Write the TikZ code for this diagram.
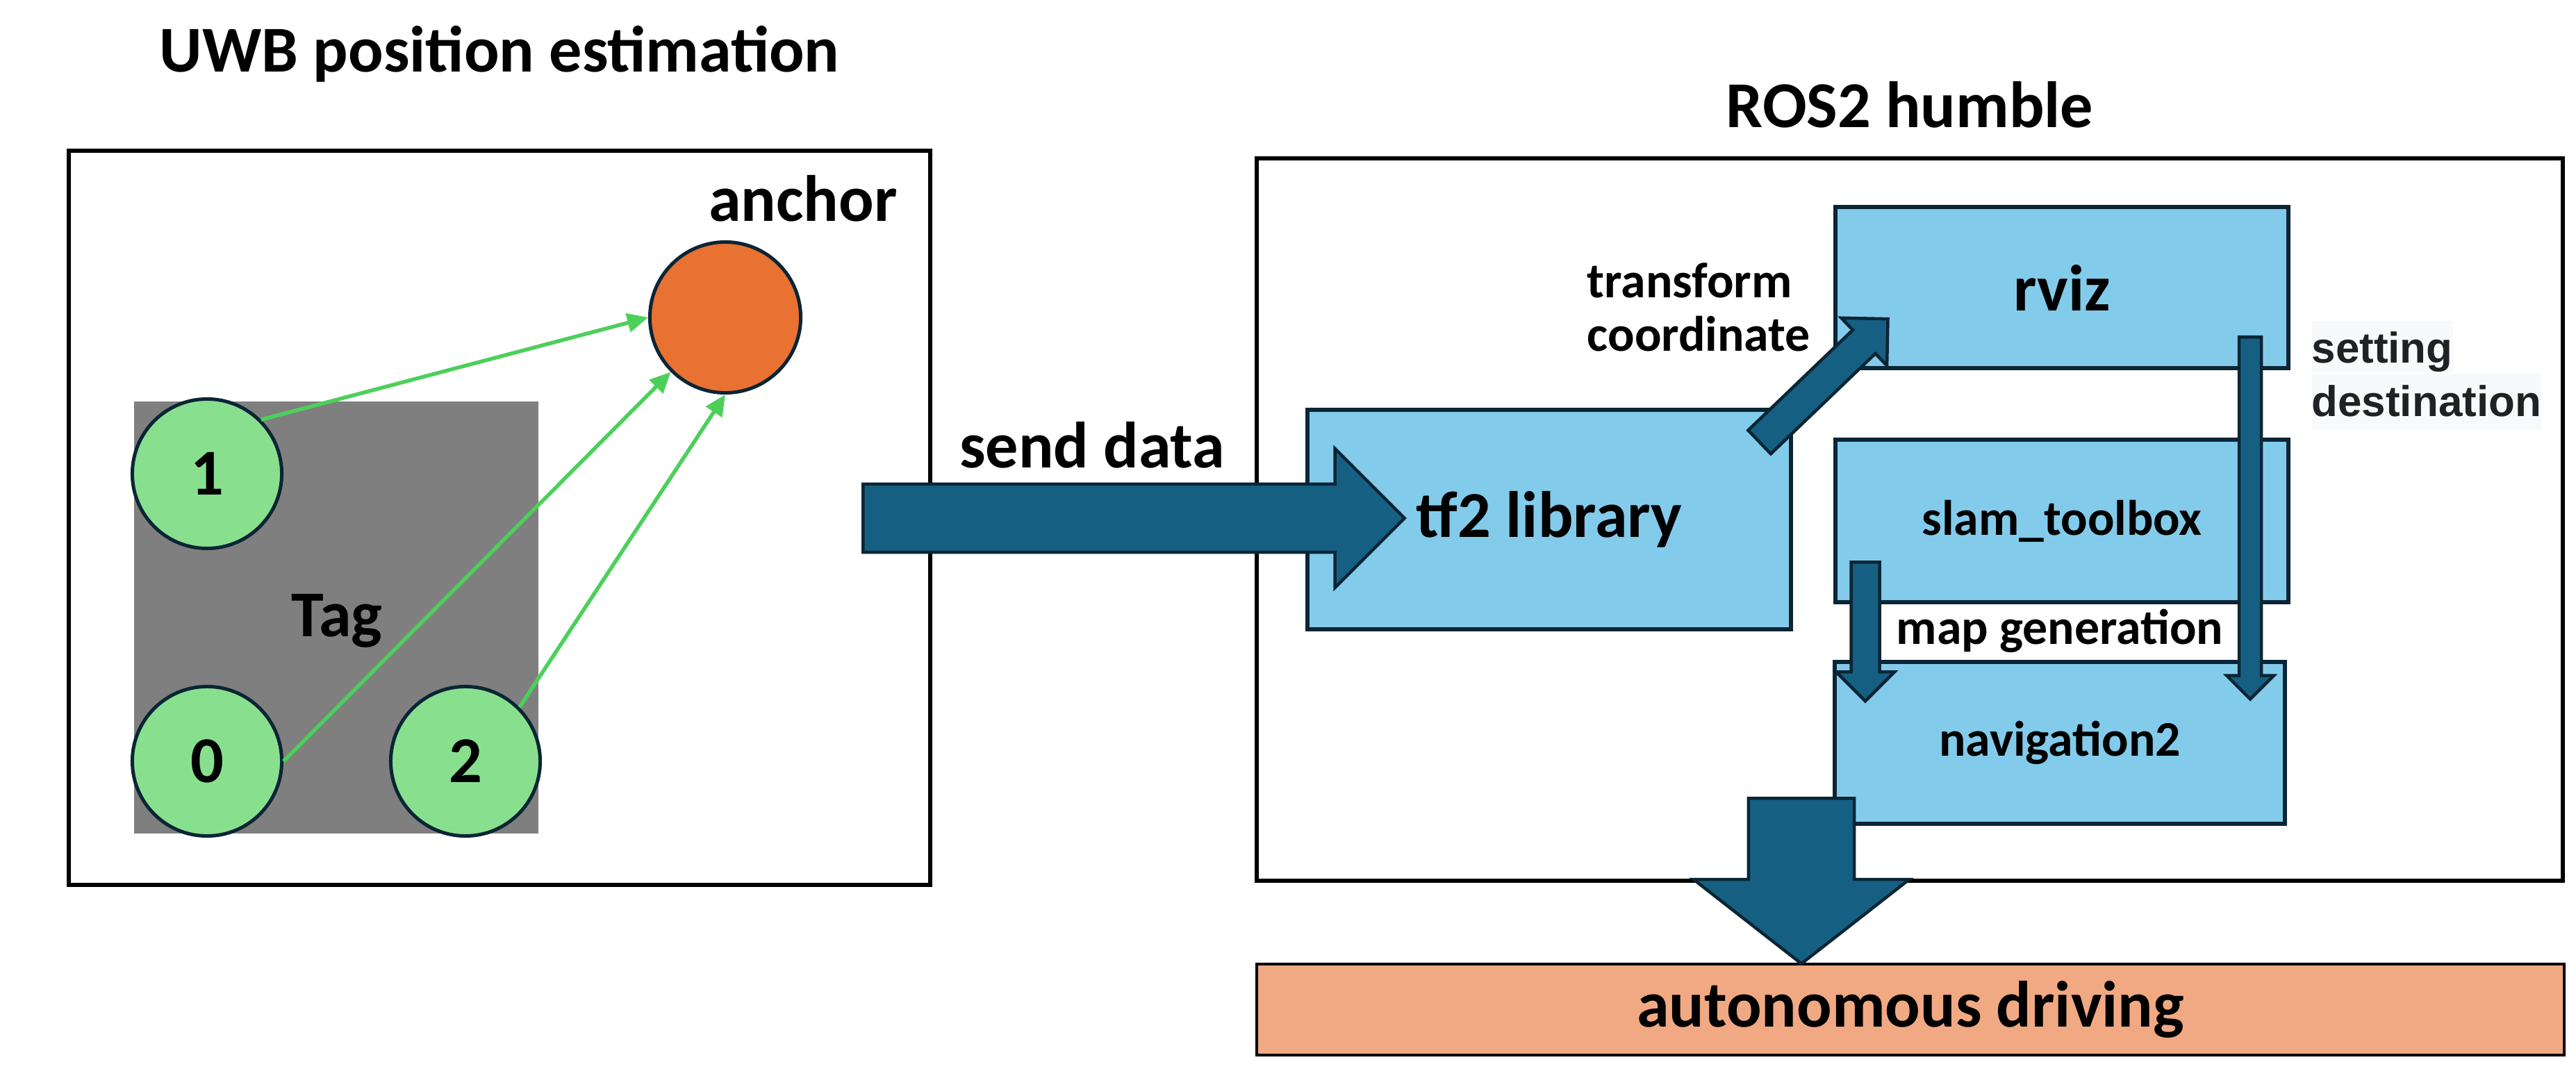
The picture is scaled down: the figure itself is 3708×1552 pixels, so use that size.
\documentclass[tikz,border=0pt]{standalone}
\usepackage{fontspec}
\setmainfont{Carlito}
\newfontfamily\arialfont{Liberation Sans}
\usepackage{tikz}
\usetikzlibrary{shapes}
\usetikzlibrary{shapes.arrows}
\usetikzlibrary{arrows.meta,arrows}
\usetikzlibrary{positioning}
\definecolor{boxblue}{HTML}{83CBEB}
\definecolor{arrowblue}{HTML}{156082}
\definecolor{edgenavy}{HTML}{0B2535}
\definecolor{tagfill}{HTML}{88E08F}
\definecolor{anchorfill}{HTML}{E97132}
\definecolor{linkgreen}{HTML}{4CD05A}
\definecolor{drivefill}{HTML}{F1A983}
\definecolor{padgray}{HTML}{7F7F7F}
\definecolor{hintbg}{HTML}{F8F9FA}
\definecolor{hinttext}{HTML}{202124}
\newcommand{\bigtxt}{\fontsize{26.8}{30}\selectfont\bfseries}
\newcommand{\smalltxt}{\fontsize{20.4}{21.9}\selectfont\bfseries}

\begin{document}
\begin{tikzpicture}[
    x=0.01cm, y=-0.01cm,
    every node/.style={inner sep=0pt},
    frame/.style={rectangle, draw=black, line width=0.06cm},
    tagdot/.style={circle, draw=edgenavy, line width=0.05cm, fill=tagfill,
    minimum size=2.15cm, font=\bigtxt},
    punkt/.style={rectangle, draw=edgenavy, line width=0.06cm, fill=boxblue},
    fatarrow/.style={single arrow, draw=edgenavy, line width=0.045cm, fill=arrowblue,
    single arrow head indent=0pt, anchor=tail},
    link/.style={draw=linkgreen, line width=0.055cm, -{Triangle[length=0.3cm, width=0.27cm]}},
    hint/.style={fill=hintbg, text=hinttext, anchor=base west,
    font=\arialfont\fontsize{17.6}{21.3}\selectfont\bfseries}
    ]
\useasboundingbox (0,0) rectangle (3708,1552);

%UWB part
\node[frame, minimum width=12.39cm, minimum height=10.56cm] (uwbbox) at (719,745.5) {};
\node[font=\bigtxt, anchor=base] (uwbtitle) at (719,104) {UWB position estimation};
\node[fill=padgray, minimum width=5.82cm, minimum height=6.22cm] (tagpad) at (484,889) {};
\node[font=\bigtxt, anchor=base] (taglbl) at (485,916) {Tag};
\node[tagdot] (tag1) at (298,682) {1};
\node[tagdot] (tag0) at (298,1096) {0};
\node[tagdot] (tag2) at (670,1096) {2};
\node[tagdot, fill=anchorfill, minimum size=2.17cm] (anch) at (1044,457) {};
\node[font=\bigtxt, anchor=base] (anchlbl) at (1156,319) {anchor};
\draw[link] (tag1.north east) -- (anch.west);
\draw[link] (tag0.east) -- (anch.south west);
\draw[link] (tag2.north east) -- (anch.south);

%ROS2 part
\node[frame, minimum width=18.79cm, minimum height=10.39cm] (rosbox) at (2749,748) {};
\node[font=\bigtxt, anchor=base] (rostitle) at (2749,184) {ROS2 humble};
\node[punkt, minimum width=6.96cm, minimum height=3.16cm, font=\bigtxt] (tf2) at (2230,748) {tf2 library};
\node[punkt, minimum width=6.51cm, minimum height=2.32cm, font=\bigtxt] (rviz) at (2968,414) {rviz};
\node[punkt, minimum width=6.51cm, minimum height=2.34cm, font=\smalltxt] (slam) at (2968,750) {slam\_toolbox};
\node[punkt, minimum width=6.48cm, minimum height=2.33cm, font=\smalltxt] (nav) at (2965,1069.5) {navigation2};
\node[frame, line width=0.04cm, fill=drivefill, minimum width=18.8cm, minimum height=1.31cm,
    font=\bigtxt] (drive) at (2750,1453.5) {autonomous driving};

%labels
\node[font=\bigtxt, anchor=base] (sendlbl) at (1572,673) {send data};
\node[font=\smalltxt, align=left, anchor=base west] (tflbl) at (2284,506) {transform\\coordinate};
\node[font=\smalltxt, anchor=base] (maplbl) at (2965,927) {map generation};
\node[hint, text height=0.61cm, text depth=0.14cm] (setlbl) at (3327,523) {setting\ };
\node[hint, text height=0.61cm, text depth=0.2cm, below=0pt of setlbl.south west,
    anchor=north west] (destlbl) {destination};

%block arrows
\node[fatarrow, minimum height=7.79cm, inner ysep=0.4675cm,
    single arrow head extend=0.51cm] (sendarr) at (1240,746) {};
\node[fatarrow, rotate=43.8, minimum height=2.56cm, inner ysep=0.2125cm,
    single arrow head extend=0.24cm] (tfarr) at (2531,638) {};
\node[fatarrow, rotate=-90, minimum height=5.21cm, inner ysep=0.1375cm,
    single arrow head extend=0.18cm] (setarr) at (3239,483) {};
\node[fatarrow, rotate=-90, minimum height=2.0cm, inner ysep=0.1825cm,
    single arrow head extend=0.215cm] (maparr) at (2685,807) {};
\node[fatarrow, rotate=-90, minimum height=2.38cm, inner ysep=0.7375cm,
    single arrow head extend=0.79cm, single arrow tip angle=104] (outarr) at (2593,1147) {};
\end{tikzpicture}
\end{document}
